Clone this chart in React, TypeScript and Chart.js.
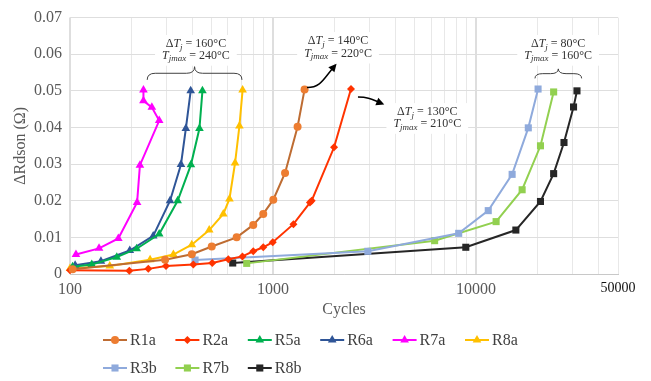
import React, { useEffect, useRef } from 'react';
import { Chart, registerables } from 'chart.js';

Chart.register(...registerables);

// ---------- data ----------
const seriesNames = ['R1a', 'R2a', 'R5a', 'R6a', 'R7a', 'R8a', 'R3b', 'R7b', 'R8b'];

const r1aCycles = [103, 294, 398, 499, 662, 799, 895, 1003, 1146, 1321, 1430];
const r1aValues = [0.0013, 0.0039, 0.0054, 0.0075, 0.0100, 0.0134, 0.0164, 0.0203, 0.0276, 0.0402, 0.0504];

const r2aCycles = [100, 196, 243, 297, 405, 502, 602, 707, 799, 895, 997, 1260, 1520, 1550, 1998, 2420];
const r2aValues = [0.0010, 0.0009, 0.0014, 0.0022, 0.0026, 0.0030, 0.0040, 0.0048, 0.0062, 0.0073, 0.0087, 0.0136, 0.0195, 0.0200, 0.0346, 0.0505];

const r5aCycles = [103, 128, 170, 213, 275, 339, 394, 434, 449];
const r5aValues = [0.0020, 0.0026, 0.0046, 0.0069, 0.0109, 0.0200, 0.0298, 0.0397, 0.0500];

const r6aCycles = [106, 142, 197, 257, 311, 352, 372, 393];
const r6aValues = [0.0024, 0.0035, 0.0064, 0.0104, 0.0200, 0.0299, 0.0397, 0.0500];

const r7aCycles = [107, 139, 173, 214, 221, 275, 253, 230, 230];
const r7aValues = [0.0053, 0.0070, 0.0097, 0.0195, 0.0297, 0.0419, 0.0455, 0.0473, 0.0502];

const r8aCycles = [100, 157, 248, 323, 398, 485, 569, 610, 650, 683, 708];
const r8aValues = [0.0015, 0.0022, 0.0039, 0.0053, 0.0080, 0.0120, 0.0164, 0.0205, 0.0303, 0.0404, 0.0502];

const r3bCycles = [413, 2930, 8210, 11480, 15050, 18080, 20200];
const r3bValues = [0.0038, 0.0062, 0.0111, 0.0173, 0.0272, 0.0399, 0.0505];

const r7bCycles = [742, 6250, 12550, 16860, 20760, 24100];
const r7bValues = [0.0029, 0.0091, 0.0143, 0.0230, 0.0350, 0.0497];

const r8bCycles = [633, 8900, 15700, 20760, 24100, 27100, 30200, 31400];
const r8bValues = [0.0030, 0.0073, 0.0120, 0.0198, 0.0274, 0.0359, 0.0456, 0.0500];

const seriesCycles = [r1aCycles, r2aCycles, r5aCycles, r6aCycles, r7aCycles, r8aCycles, r3bCycles, r7bCycles, r8bCycles];
const seriesValues = [r1aValues, r2aValues, r5aValues, r6aValues, r7aValues, r8aValues, r3bValues, r7bValues, r8bValues];

const xGridValues = [100, 200, 300, 400, 500, 600, 700, 800, 900, 1000, 2000, 3000, 4000, 5000, 6000, 7000, 8000, 9000, 10000, 20000, 30000, 40000, 50000];
const xLabelValues = [100, 1000, 10000, 50000];
const xMajorValues = [100, 1000, 10000];
const yMin = 0;
const yMax = 0.07;
const yStep = 0.01;

const xTitle = 'Cycles';
const yTitle = 'ΔRdson (Ω)';

// annotation texts (ΔTj, Tjmax)
const annotationTexts = [
  ['160', '240'],
  ['140', '220'],
  ['130', '210'],
  ['80', '160'],
];

// ---------- styles ----------
const styles = [
  { line: '#BE6C32', fill: '#ED7D31', shape: 'circle', r: 4 },
  { line: '#FF3300', fill: '#FF3300', shape: 'rectRot', r: 4 },
  { line: '#00B050', fill: '#00B050', shape: 'triangle', r: 5 },
  { line: '#2F5597', fill: '#2F5597', shape: 'triangle', r: 5 },
  { line: '#FF00FF', fill: '#FF00FF', shape: 'triangle', r: 5 },
  { line: '#FFC000', fill: '#FFC000', shape: 'triangle', r: 5 },
  { line: '#8FAADC', fill: '#8FAADC', shape: 'rect', r: 5 },
  { line: '#92D050', fill: '#92D050', shape: 'rect', r: 5 },
  { line: '#262626', fill: '#262626', shape: 'rect', r: 5 },
];

const SERIF = '"Liberation Serif", "Times New Roman", serif';
const GRAY = '#595959';

function drawMarker(ctx: CanvasRenderingContext2D, shape: string, x: number, y: number, r: number, color: string) {
  ctx.save();
  ctx.fillStyle = color;
  ctx.beginPath();
  if (shape === 'circle') {
    ctx.arc(x, y, r, 0, Math.PI * 2);
  } else if (shape === 'rect') {
    const s = r * Math.SQRT1_2;
    ctx.rect(x - s, y - s, 2 * s, 2 * s);
  } else if (shape === 'rectRot') {
    ctx.moveTo(x, y - r);
    ctx.lineTo(x + r, y);
    ctx.lineTo(x, y + r);
    ctx.lineTo(x - r, y);
    ctx.closePath();
  } else if (shape === 'triangle') {
    const a = r * 0.866;
    ctx.moveTo(x, y - r);
    ctx.lineTo(x + a, y + r * 0.5);
    ctx.lineTo(x - a, y + r * 0.5);
    ctx.closePath();
  }
  ctx.fill();
  ctx.restore();
}

type Part = { t: string; italic?: boolean; sub?: boolean };

function mathLine(ctx: CanvasRenderingContext2D, parts: Part[], cx: number, y: number, size: number, measureOnly = false) {
  const fontFor = (p: Part) => `${p.italic ? 'italic ' : ''}${p.sub ? Math.round(size * 0.72) : size}px ${SERIF}`;
  let total = 0;
  const widths = parts.map((p) => {
    ctx.font = fontFor(p);
    const w = ctx.measureText(p.t).width;
    total += w;
    return w;
  });
  if (measureOnly) return total;
  let x = cx - total / 2;
  ctx.textBaseline = 'middle';
  ctx.textAlign = 'left';
  parts.forEach((p, i) => {
    ctx.font = fontFor(p);
    ctx.fillText(p.t, x, p.sub ? y + size * 0.28 : y);
    x += widths[i];
  });
  return total;
}

function linesFor(dt: string, tm: string): Part[][] {
  return [
    [{ t: 'Δ' }, { t: 'T', italic: true }, { t: 'j', italic: true, sub: true }, { t: ' = ' + dt + '°C' }],
    [{ t: 'T', italic: true }, { t: 'jmax', italic: true, sub: true }, { t: ' = ' + tm + '°C' }],
  ];
}

function drawBrace(ctx: CanvasRenderingContext2D, x0: number, x1: number, yTip: number, yEnd: number) {
  const cx = (x0 + x1) / 2;
  const ym = (yTip + yEnd) / 2;
  const r = Math.min(8, (x1 - x0) / 6);
  ctx.beginPath();
  ctx.moveTo(x0, yEnd);
  ctx.quadraticCurveTo(x0, ym, x0 + r, ym);
  ctx.lineTo(cx - r, ym);
  ctx.quadraticCurveTo(cx, ym, cx, yTip);
  ctx.quadraticCurveTo(cx, ym, cx + r, ym);
  ctx.lineTo(x1 - r, ym);
  ctx.quadraticCurveTo(x1, ym, x1, yEnd);
  ctx.stroke();
}

function drawArrow(ctx: CanvasRenderingContext2D, sx: number, sy: number, ex: number, ey: number) {
  const dx = ex - sx;
  const dy = ey - sy;
  const c1x = sx + 0.5 * dx, c1y = sy;
  const c2x = ex - 0.4 * dx, c2y = ey - 0.6 * dy;
  ctx.beginPath();
  ctx.moveTo(sx, sy);
  ctx.bezierCurveTo(c1x, c1y, c2x, c2y, ex, ey);
  ctx.stroke();
  const ang = Math.atan2(ey - c2y, ex - c2x);
  const L = 8, W = 4;
  const tx = ex + Math.cos(ang) * 3, ty = ey + Math.sin(ang) * 3;
  ctx.beginPath();
  ctx.moveTo(tx, ty);
  ctx.lineTo(tx - L * Math.cos(ang) + W * Math.sin(ang), ty - L * Math.sin(ang) - W * Math.cos(ang));
  ctx.lineTo(tx - L * Math.cos(ang) - W * Math.sin(ang), ty - L * Math.sin(ang) + W * Math.cos(ang));
  ctx.closePath();
  ctx.fill();
}

const decorPlugin = {
  id: 'decor',
  afterDraw(chart: any) {
    const ctx: CanvasRenderingContext2D = chart.ctx;
    const xs = chart.scales.x;
    const ys = chart.scales.y;
    const px = (v: number) => xs.getPixelForValue(v);
    const py = (v: number) => ys.getPixelForValue(v);

    const blocks = [
      { cx: 417, y1: 0.0628, y2: 0.0596 },
      { cx: 2090, y1: 0.0636, y2: 0.0602 },
      { cx: 5750, y1: 0.0442, y2: 0.0410 },
      { cx: 25360, y1: 0.0628, y2: 0.0596 },
    ];
    ctx.save();
    blocks.forEach((b, i) => {
      const lines = linesFor(annotationTexts[i][0], annotationTexts[i][1]);
      const w = Math.max(
        mathLine(ctx, lines[0], 0, 0, 12, true) as number,
        mathLine(ctx, lines[1], 0, 0, 12, true) as number
      );
      const cx = px(b.cx);
      const y1 = py(b.y1), y2 = py(b.y2);
      ctx.fillStyle = '#ffffff';
      ctx.fillRect(cx - w / 2 - 7, y1 - 9, w + 14, y2 - y1 + 19);
      ctx.fillStyle = '#333333';
      mathLine(ctx, lines[0], cx, y1, 12);
      mathLine(ctx, lines[1], cx, y2, 12);
    });

    ctx.strokeStyle = '#404040';
    ctx.lineWidth = 1;
    drawBrace(ctx, px(240), px(703), py(0.0566), py(0.0530));
    drawBrace(ctx, px(19500), px(33100), py(0.0560), py(0.0534));

    ctx.strokeStyle = '#000000';
    ctx.fillStyle = '#000000';
    ctx.lineWidth = 1.5;
    drawArrow(ctx, px(1470), py(0.0509), px(2010), py(0.0568));
    drawArrow(ctx, px(2620), py(0.0483), px(3420), py(0.0466));

    // legend
    const left = 103;
    const colW = 72.4;
    const rowsY = [340, 368];
    chart.data.datasets.forEach((ds: any, i: number) => {
      const row = i < 6 ? 0 : 1;
      const col = i < 6 ? i : i - 6;
      const x = left + col * colW;
      const y = rowsY[row];
      const st = styles[i];
      ctx.strokeStyle = st.line;
      ctx.lineWidth = 2;
      ctx.beginPath();
      ctx.moveTo(x, y);
      ctx.lineTo(x + 24, y);
      ctx.stroke();
      drawMarker(ctx, st.shape, x + 12, y, st.r, st.fill);
      ctx.fillStyle = '#404040';
      ctx.font = `16px ${SERIF}`;
      ctx.textAlign = 'left';
      ctx.textBaseline = 'middle';
      ctx.fillText(ds.label, x + 27, y + 1);
    });
    ctx.restore();
  },
};

export default function App() {
  const ref = useRef<HTMLCanvasElement | null>(null);
  useEffect(() => {
    const canvas = ref.current;
    if (!canvas) return;
    const datasets = seriesNames.map((name, i) => ({
      label: name,
      data: seriesCycles[i].map((c, j) => ({ x: c, y: seriesValues[i][j] })),
      borderColor: styles[i].line,
      backgroundColor: styles[i].fill,
      pointBackgroundColor: styles[i].fill,
      pointBorderColor: styles[i].fill,
      pointBorderWidth: 0,
      pointStyle: styles[i].shape,
      pointRadius: styles[i].r,
      borderWidth: 2,
      tension: 0,
      fill: false,
      clip: false as any,
    }));
    const chart = new Chart(canvas, {
      type: 'line',
      data: { datasets },
      plugins: [decorPlugin],
      options: {
        responsive: false,
        animation: false,
        devicePixelRatio: 1,
        layout: { padding: { left: 0, right: 33, top: 13, bottom: 57 } },
        plugins: { legend: { display: false }, tooltip: { enabled: false } },
        scales: {
          x: {
            type: 'logarithmic',
            min: 100,
            max: 50000,
            afterBuildTicks: (axis: any) => {
              axis.ticks = xGridValues.map((v) => ({ value: v, major: xMajorValues.includes(v) }));
            },
            afterFit: (axis: any) => {
              axis.height = 50;
            },
            ticks: {
              autoSkip: false,
              maxRotation: 0,
              padding: 6,
              callback: (v: any) => (xLabelValues.includes(Number(v)) ? String(v) : ''),
              font: (c: any) => ({ family: SERIF, size: c.tick && c.tick.value === 50000 ? 14 : 16 }),
              color: (c: any) => (c.tick && c.tick.value === 50000 ? '#111111' : GRAY),
            },
            grid: {
              drawTicks: false,
              color: (c: any) => (c.tick && xMajorValues.includes(c.tick.value) ? '#DEDEDE' : '#E8E8E8'),
              lineWidth: (c: any) => (c.tick && xMajorValues.includes(c.tick.value) ? 2 : 1),
            },
            border: { display: true, color: '#C8C8C8', width: 1 },
            title: {
              display: true,
              text: xTitle,
              color: GRAY,
              font: { family: SERIF, size: 16 },
              padding: { top: 0, bottom: 5 },
            },
          },
          y: {
            type: 'linear',
            min: yMin,
            max: yMax,
            afterFit: (axis: any) => {
              axis.width = 70;
            },
            ticks: {
              stepSize: yStep,
              padding: 8,
              color: GRAY,
              font: { family: SERIF, size: 16 },
              callback: (v: any) => (Number(v) === 0 ? '0' : Number(v).toFixed(2)),
            },
            grid: { drawTicks: false, color: '#DEDEDE', lineWidth: 1 },
            border: { display: false },
            title: {
              display: true,
              text: yTitle,
              color: GRAY,
              font: { family: SERIF, size: 16 },
              padding: { top: 11, bottom: 0 },
            },
          },
        },
      },
    });
    return () => chart.destroy();
  }, []);
  return (
    <div style={{ position: 'absolute', left: 0, top: 0, width: 651, height: 381, background: '#ffffff' }}>
      <canvas ref={ref} width={651} height={381} style={{ display: 'block' }} />
    </div>
  );
}
